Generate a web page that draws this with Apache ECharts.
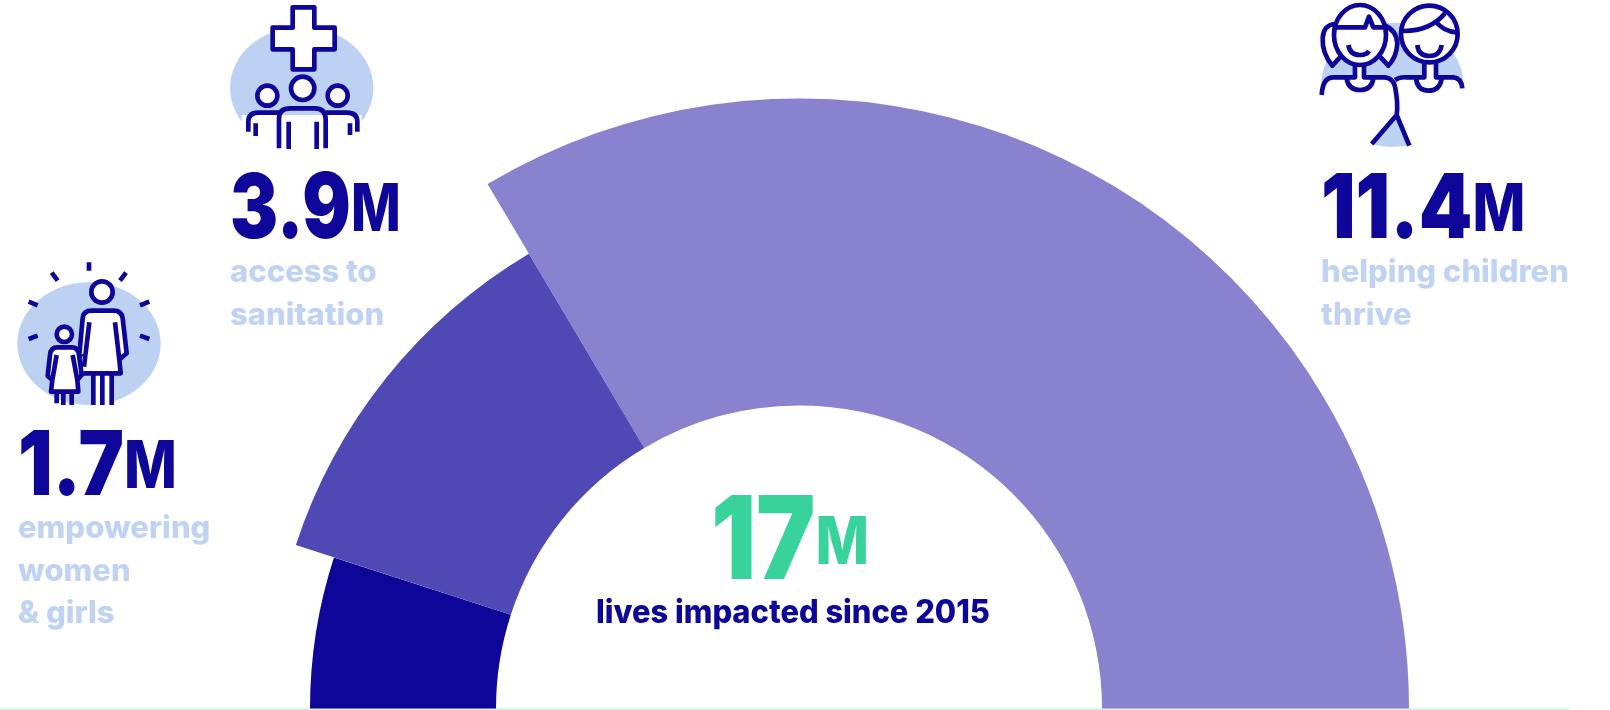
<!DOCTYPE html>
<html><head><meta charset="utf-8">
<style>html,body{margin:0;padding:0;background:#fff}#c{width:1610px;height:710px}</style>
<script src="https://cdn.jsdelivr.net/npm/echarts@6/dist/echarts.min.js"></script></head>
<body><div id="c"></div>
<script>
const categories = ['empowering women & girls', 'access to sanitation', 'helping children thrive'];
const values = [1.7, 3.9, 11.4];
const labelLines = [['empowering', 'women', '& girls'], ['access to', 'sanitation'], ['helping children', 'thrive']];
const totalValue = 17;
const totalCaption = 'lives impacted since 2015';
const unit = 'M';
const colors = ['#0e0599', '#5048b5', '#8882cf'];
const outerRadii = [489, 529, 610];
const innerRadius = 303;
const pieCenter = [799, 708.5];

const DARK = '#0e0599', PALE = '#c0d3f3', BLOB = '#bdd1f2', GREEN = '#38d39a';
const FONT = 'Inter';

const chart = echarts.init(document.getElementById('c'), null, {renderer: 'canvas'});

const series = categories.map((name, k) => ({
  type: 'pie', silent: true, animation: false,
  center: pieCenter, radius: [innerRadius, outerRadii[k]],
  startAngle: 180, endAngle: 0, clockwise: true,
  label: {show: false}, labelLine: {show: false},
  z: k === 1 ? 3 : (k === 2 ? 2 : 1),
  data: categories.map((n, i) => ({
    name: n, value: values[i],
    itemStyle: {color: i === k ? colors[k] : 'rgba(0,0,0,0)', borderWidth: 0}
  }))
}));

function bigNum(x, y, num, color, big, small, sx) {
  return {type: 'text', x, y, z: 20, scaleX: sx || 0.85, style: {
    text: `{a|${num}}{b|${unit}}`,
    rich: {
      a: {fontFamily: FONT, fontWeight: 900, fontSize: big, fill: color},
      b: {fontFamily: FONT, fontWeight: 800, fontSize: small, fill: color}
    }, verticalAlign: 'bottom', align: 'left'
  }};
}
function caption(x, y, text, color, size, align, sx) {
  return {type: 'text', x, y, z: 20, scaleX: sx || 1, style: {text, fill: color, font: `800 ${size}px ${FONT}`, align: align || 'left', verticalAlign: 'bottom'}};
}
function iconGroup(x, y, ellipse, items) {
  return {type: 'group', x, y, scaleX: 1/3, scaleY: 1/3, z: 10, children: [
    {type: 'ellipse', shape: ellipse, style: {fill: BLOB}, z: 10}
  ].concat(items)};
}
let shapeCount = 0;
const LW = 14;
function Dp(d, fill, noStroke, lw, z) {
  const name = 'iconPath' + (shapeCount++);
  echarts.graphic.registerShape(name, echarts.graphic.extendPath(d, {}));
  return {type: name, z: z || 11,
    style: {fill: fill || 'transparent', stroke: noStroke ? 'transparent' : DARK, lineWidth: lw || LW, lineJoin: 'round'}};
}
const C = (cx, cy, r, lw) => ({type: 'circle', z: 12, shape: {cx, cy, r}, style: {fill: '#fff', stroke: DARK, lineWidth: lw || LW}});

const womenIcon = iconGroup(0, 240, {cx: 267, cy: 311, rx: 215, ry: 184}, [
  Dp('M267,67V92M155,98L173,122M378,98L360,122M86,185L113,196M448,185L420,196M86,297L113,287M448,297L420,287'),
  Dp('M237,345L248,235Q250,212 275,212H340Q365,212 368,235L380,340L360,357L362,400H340V495H275V400H250L245,345Z', '#fff', true),
  Dp('M247,350L238,345L248,235Q250,212 275,212H340Q365,212 368,235L380,340L360,357M268,247L252,380M345,247L358,360L362,400H250M280,400V495M307,395V495M335,400V495'),
  C(306, 156, 32),
  Dp('M143,410L150,345Q152,322 172,322H215Q235,322 237,345L245,405L232,420L235,455H153L157,420Z', '#fff', true, LW, 13),
  Dp('M157,420L143,408L150,345Q152,322 172,322H215Q235,322 237,345L245,405L232,420L235,455H153L157,420L170,345M218,345L232,420M170,455V490M190,455V495M215,455V495', null, false, LW, 14),
  Object.assign(C(193, 283, 23), {z: 14})
]);

const sanitationIcon = iconGroup(210, 0, {cx: 275, cy: 264, rx: 215, ry: 184}, [
  Dp('M95,345H455V460H95Z', '#fff', true),
  Dp('M248,22H313V83H374V148H313V208H248V148H188V83H248Z', '#fff'),
  C(278, 265, 35), C(172, 287, 30), C(383, 287, 30),
  Dp('M115,395V365Q115,338 145,338H207M137,370V408M347,338H410Q442,338 442,365V395M420,370V405'),
  Dp('M207,445V355Q207,325 240,325H315Q345,325 347,355V445M236,365V447M320,365V447')
]);

const childrenIcon = iconGroup(1300, 0, {cx: 277, cy: 254, rx: 213, ry: 186}, [
  Dp('M55,285Q68,232 100,232H255Q280,235 285,260Q295,310 290,345L215,432L205,450H55Z', '#fff', true),
  Dp('M290,345L285,240Q300,230 320,232H460Q485,235 500,265V450H335L328,437Z', '#fff', true),
  Dp('M105,72Q70,75 68,115Q66,160 97,197L122,170M250,75Q290,90 292,130Q290,170 265,197L240,170', '#fff'),
  Dp('M165,190H192V232H165Z', '#fff', true),
  Dp('M373,188H408V232H373Z', '#fff', true),
  {type: 'ellipse', z: 12, shape: {cx: 180, cy: 105, rx: 78, ry: 90}, style: {fill: '#fff', stroke: DARK, lineWidth: LW}},
  {type: 'circle', z: 12, shape: {cx: 388, cy: 102, r: 85}, style: {fill: '#fff', stroke: DARK, lineWidth: LW}},
  Dp('M105,82H195L207,50L220,82H250M145,135Q150,165 180,165Q200,165 207,153', null, false, LW, 13),
  Dp('M305,93Q390,95 435,40M405,62Q430,95 470,97M352,135Q355,168 388,168Q420,168 425,135', null, false, LW, 13),
  Dp('M165,192V232H100Q68,232 65,285M192,192V232H255Q280,235 285,260Q295,310 290,345L215,432M290,345L328,437M140,235Q145,270 180,270Q215,270 220,235', null, false, LW, 13),
  Dp('M373,188V232H320Q300,230 285,240M408,188V232H460Q485,235 487,265M348,235Q352,272 385,272Q420,272 425,235', null, false, LW, 13)
]);

const texts = [
  bigNum(18, 513, values[0], DARK, 90, 66),
  bigNum(230, 256, values[1], DARK, 90, 66, 0.8),
  bigNum(1321, 256, values[2], DARK, 90, 66),
  bigNum(711, 602, totalValue, GREEN, 116, 66, 0.86),
];
[[18, 544], [230, 288], [1321, 288]].forEach((pos, i) => {
  labelLines[i].forEach((t, j) => {
    texts.push(caption(pos[0], pos[1] + j * 42.8, t, PALE, 31));
  });
});
texts.push(caption(793, 629, totalCaption, DARK, 32, 'center', 0.965));

chart.setOption({
  animation: false,
  backgroundColor: '#fff',
  series,
  graphic: {elements: [
    {type: 'rect', z: -1, shape: {x: 0, y: 708, width: 1569, height: 2}, style: {fill: '#d5f5ea'}},
    womenIcon, sanitationIcon, childrenIcon
  ].concat(texts)}
});
</script></body></html>
